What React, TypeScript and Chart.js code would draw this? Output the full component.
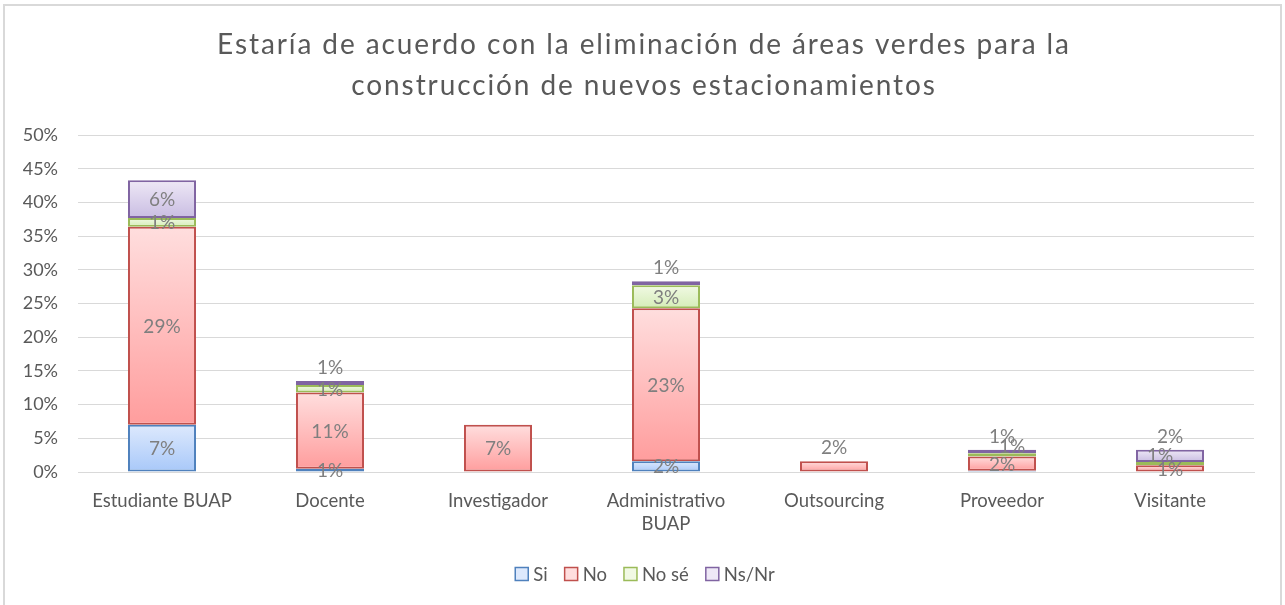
import React, { useEffect, useRef } from "react";
import { Chart, registerables } from "chart.js";

Chart.register(...registerables);

const categories: (string | string[])[] = [
  "Estudiante BUAP",
  "Docente",
  "Investigador",
  ["Administrativo", "BUAP"],
  "Outsourcing",
  "Proveedor",
  "Visitante",
];
const siValues = [7.0, 0.5, 0, 1.6, 0, 0.2, 0];
const noValues = [29.4, 11.3, 7.0, 22.7, 1.6, 2.1, 1.0];
const noSeValues = [1.3, 1.1, 0, 3.4, 0, 0.5, 0.5];
const nsNrValues = [5.6, 0.6, 0, 0.6, 0, 0.5, 1.8];
const seriesNames = ["Si", "No", "No sé", "Ns/Nr"];
const yTicks = [0, 5, 10, 15, 20, 25, 30, 35, 40, 45, 50];
const titleLines = [
  "Estaría de acuerdo con la eliminación de áreas verdes para la",
  "construcción de nuevos estacionamientos",
];

const FONT = "Lato, 'Open Sans', sans-serif";
const borderColors = ["#4f81bd", "#c0504d", "#9bbb59", "#8064a2"];
const topColors = ["#dde9fd", "#ffdede", "#f1f9e4", "#eee8f6"];
const bottomColors = ["#a8c8f9", "#ff9d9d", "#d5edb8", "#c9bde2"];

const allSeries = [siValues, noValues, noSeValues, nsNrValues];

export default function App() {
  const canvasRef = useRef<HTMLCanvasElement | null>(null);

  useEffect(() => {
    document.body.style.margin = "0";
    const canvas = canvasRef.current;
    if (!canvas) return;

    const gradientFill = (dsIndex: number) => (ctx: any) => {
      const chart = ctx.chart;
      const yScale = chart.scales?.y;
      const i = ctx.dataIndex;
      if (!yScale || i === undefined) return topColors[dsIndex];
      let start = 0;
      for (let k = 0; k < dsIndex; k++) start += allSeries[k][i];
      const end = start + allSeries[dsIndex][i];
      const y0 = yScale.getPixelForValue(start);
      const y1 = yScale.getPixelForValue(end);
      if (!isFinite(y0) || !isFinite(y1) || y0 === y1) return topColors[dsIndex];
      const g = chart.ctx.createLinearGradient(0, y1, 0, y0);
      g.addColorStop(0, topColors[dsIndex]);
      g.addColorStop(1, bottomColors[dsIndex]);
      return g;
    };

    const framePlugin = {
      id: "frame",
      beforeDraw(chart: any) {
        const c = chart.ctx;
        c.save();
        c.fillStyle = "#ffffff";
        c.fillRect(0, 0, chart.width, chart.height);
        c.strokeStyle = "#d9d9d9";
        c.lineWidth = 2;
        c.strokeRect(4, 5, 1277, 640);
        // title
        c.fillStyle = "#595959";
        c.font = `28px ${FONT}`;
        (c as any).letterSpacing = "1.9px";
        c.textAlign = "center";
        c.textBaseline = "middle";
        c.fillText(titleLines[0], 644, 45);
        c.fillText(titleLines[1], 644, 86);
        (c as any).letterSpacing = "0px";
        // legend
        c.font = `18.5px ${FONT}`;
        c.textAlign = "left";
        const boxSize = 13;
        const gapBoxText = 5;
        const gapItems = 17;
        const widths = seriesNames.map((n) => boxSize + gapBoxText + c.measureText(n).width);
        const total = widths.reduce((a, b) => a + b, 0) + gapItems * (seriesNames.length - 1);
        let x = 645 - total / 2;
        const ly = 574;
        seriesNames.forEach((n, k) => {
          c.fillStyle = topColors[k];
          c.fillRect(x, ly - boxSize / 2, boxSize, boxSize);
          c.strokeStyle = borderColors[k];
          c.lineWidth = 1.5;
          c.strokeRect(x, ly - boxSize / 2, boxSize, boxSize);
          c.fillStyle = "#595959";
          c.fillText(n, x + boxSize + gapBoxText, ly + 1);
          x += widths[k] + gapItems;
        });
        c.restore();
      },
    };

    const labelPlugin = {
      id: "segLabels",
      afterDatasetsDraw(chart: any) {
        const c = chart.ctx;
        c.save();
        c.font = `19px ${FONT}`;
        c.fillStyle = "#7f7f7f";
        c.textAlign = "center";
        c.textBaseline = "middle";
        const n = chart.data.datasets.length;
        chart.data.datasets.forEach((ds: any, di: number) => {
          const meta = chart.getDatasetMeta(di);
          meta.data.forEach((el: any, i: number) => {
            const v = ds.data[i];
            const r = Math.round(v);
            if (!v || r === 0) return;
            let isTop = true;
            for (let k = di + 1; k < n; k++) if (chart.data.datasets[k].data[i] > 0) isTop = false;
            const h = Math.abs(el.base - el.y);
            let y = (el.y + el.base) / 2;
            let x = el.x;
            if (isTop && h < 13) y = el.y - 14;
            else if (di === 2 && h < 5) {
              y = y - 9;
              x = x + (i % 2 === 1 ? 10 : -10);
            }
            c.fillText(`${r}%`, x, y + 1);
          });
        });
        c.restore();
      },
    };

    const chart = new Chart(canvas, {
      type: "bar",
      data: {
        labels: categories,
        datasets: seriesNames.map((name, k) => ({
          label: name,
          data: allSeries[k],
          backgroundColor: gradientFill(k),
          borderColor: borderColors[k],
          borderWidth: 2,
          borderSkipped: false,
          categoryPercentage: 1,
          barPercentage: 0.405,
        })),
      },
      options: {
        responsive: false,
        animation: false,
        layout: { padding: { top: 135, left: 0, right: 31, bottom: 73 } },
        plugins: {
          legend: { display: false },
          title: { display: false },
          tooltip: { enabled: false },
        },
        scales: {
          x: {
            stacked: true,
            grid: { display: false, drawTicks: false },
            border: { display: true, color: "#d9d9d9", width: 1 },
            ticks: {
              color: "#595959",
              font: { family: FONT, size: 18.5, lineHeight: 1.25 },
              padding: 17,
              maxRotation: 0,
              autoSkip: false,
            },
            afterFit(scale: any) {
              scale.height = 60;
            },
          },
          y: {
            stacked: true,
            min: 0,
            max: 50,
            afterBuildTicks(scale: any) {
              scale.ticks = yTicks.map((v) => ({ value: v }));
            },
            grid: { color: "#d9d9d9", lineWidth: 1, drawTicks: false },
            border: { display: false },
            ticks: {
              color: "#595959",
              font: { family: FONT, size: 18 },
              padding: 20,
              callback: (v: any) => `${v}%`,
            },
            afterFit(scale: any) {
              scale.width = 78;
            },
          },
        },
      },
      plugins: [framePlugin, labelPlugin],
    });

    return () => chart.destroy();
  }, []);

  return (
    <div style={{ width: 1285, height: 605 }}>
      <canvas ref={canvasRef} width={1285} height={605} style={{ display: "block" }} />
    </div>
  );
}
